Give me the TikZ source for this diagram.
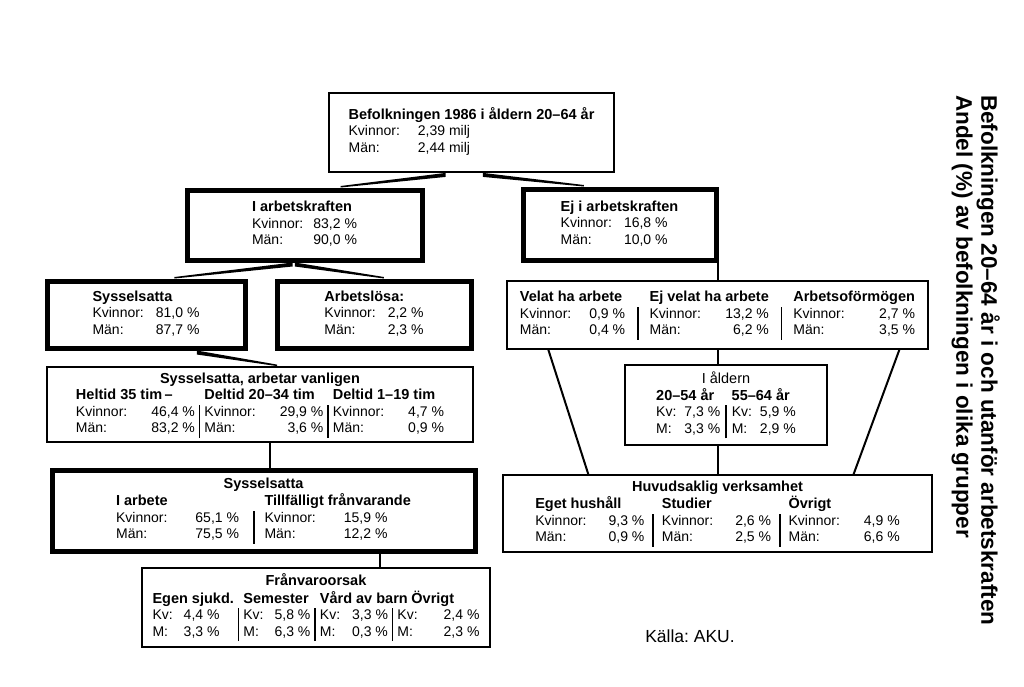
\documentclass[tikz,border=0pt]{standalone}
\usepackage{fontspec}
\setmainfont{Liberation Sans}
\usetikzlibrary{calc}
\newcommand{\colhead}[1]{{\fontsize{14.5}{16.5}\selectfont\bfseries #1}}
\newcommand{\divl}{\vrule width 1.5pt}

\begin{document}
\begin{tikzpicture}[x=1pt, y=-1pt,
    statbox/.style 2 args={draw, 
      line width=1.8, 
      minimum width=#1, 
      minimum height=#2, 
      inner sep=0pt, 
      font=\fontsize{14}{16.5}\selectfont},
    heavybox/.style 2 args={statbox={#1}{#2}, 
      line width=5},
    link/.style={line width=2}]

  \useasboundingbox (0,0) rectangle (1024,686);

  \node [statbox={285}{79}] (pop) at (471.5,132.5) {%
    \begin{tabular}{@{}l@{\hspace{18pt}}l@{}}
      \multicolumn{2}{@{}l@{}}{\colhead{Befolkningen 1986 i åldern 20--64 år}}\\
      Kvinnor: & 2,39 milj\\
      Män:     & 2,44 milj
    \end{tabular}};

  \node [heavybox={235}{70}] (arbkr) at (304.5,225) {%
    \begin{tabular}{@{}l@{\hspace{10pt}}l@{}}
      \multicolumn{2}{@{}l@{}}{\colhead{I arbetskraften}}\\
      Kvinnor: & 83,2~\%\\
      Män:     & 90,0~\%
    \end{tabular}};

  \node [heavybox={193}{71}] (ejarb) at (619.5,224.5) {%
    \begin{tabular}{@{}l@{\hspace{12pt}}l@{}}
      \multicolumn{2}{@{}l@{}}{\colhead{Ej i arbetskraften}}\\
      Kvinnor: & 16,8~\%\\
      Män:     & 10,0~\%
    \end{tabular}};

  \node [heavybox={198}{67}] (syss) at (146,314.5) {%
    \begin{tabular}{@{}l@{\hspace{12pt}}l@{}}
      \multicolumn{2}{@{}l@{}}{\colhead{Sysselsatta}}\\
      Kvinnor: & 81,0~\%\\
      Män:     & 87,7~\%
    \end{tabular}};

  \node [heavybox={194}{67}] (arbl) at (374,314.5) {%
    \begin{tabular}{@{}l@{\hspace{12pt}}l@{}}
      \multicolumn{2}{@{}l@{}}{\colhead{Arbetslösa:}}\\
      Kvinnor: & 2,2~\%\\
      Män:     & 2,3~\%
    \end{tabular}};

  \node [statbox={421}{68}] (velat) at (717.5,315) {%
    \begin{tabular}{@{}l@{\hspace{18pt}}r@{\hspace{12pt}}c@{\hspace{11pt}}l@{\hspace{18pt}}r@{\hspace{12pt}}c@{\hspace{11pt}}l@{\hspace{18pt}}r@{}}
      \multicolumn{2}{@{}l@{\hspace{12pt}}}{\colhead{Velat ha arbete}} & &
      \multicolumn{2}{@{}l@{\hspace{12pt}}}{\colhead{Ej velat ha arbete}} & &
      \multicolumn{2}{@{}l@{}}{\colhead{Arbetsoförmögen}}\\
      Kvinnor: & 0,9~\% & \divl & Kvinnor: & 13,2~\% & \divl & Kvinnor: & 2,7~\%\\
      Män:     & 0,4~\% & \divl & Män:     & 6,2~\%  & \divl & Män:     & 3,5~\%
    \end{tabular}};

  \node [statbox={426}{75}] (sysvanl) at (260,404.5) {%
    \begin{tabular}{@{}l@{\hspace{24pt}}r@{\hspace{4pt}}c@{\hspace{4pt}}l@{\hspace{24pt}}r@{\hspace{4pt}}c@{\hspace{4pt}}l@{\hspace{24pt}}r@{}}
      \multicolumn{8}{@{}c@{}}{\colhead{Sysselsatta, arbetar vanligen}}\\
      \multicolumn{2}{@{}l@{\hspace{4pt}}}{\colhead{Heltid 35 tim\,--}} & &
      \multicolumn{2}{@{}l@{\hspace{4pt}}}{\colhead{Deltid 20--34 tim}} & &
      \multicolumn{2}{@{}l@{}}{\colhead{Deltid 1--19 tim}}\\
      Kvinnor: & 46,4~\% & \divl & Kvinnor: & 29,9~\% & \divl & Kvinnor: & 4,7~\%\\
      Män:     & 83,2~\% & \divl & Män:     & 3,6~\%  & \divl & Män:     & 0,9~\%
    \end{tabular}};

  \node [statbox={202}{80}] (ialdern) at (726,405) {%
    \begin{tabular}{@{}l@{\hspace{8pt}}r@{\hspace{5pt}}c@{\hspace{5pt}}l@{\hspace{8pt}}r@{}}
      \multicolumn{5}{@{}c@{}}{\fontsize{14.5}{16.5}\selectfont I åldern}\\
      \multicolumn{2}{@{}l@{\hspace{5pt}}}{\colhead{20--54 år}} & &
      \multicolumn{2}{@{}l@{}}{\colhead{55--64 år}}\\
      Kv: & 7,3~\% & \divl & Kv: & 5,9~\%\\
      M:  & 3,3~\% & \divl & M:  & 2,9~\%
    \end{tabular}};

  \node [heavybox={423}{81}] (syss2) at (263.5,510.5) {%
    \begin{tabular}{@{}l@{\hspace{28pt}}r@{\hspace{14pt}}c@{\hspace{10pt}}l@{\hspace{28pt}}l@{}}
      \multicolumn{5}{@{}c@{}}{\colhead{Sysselsatta}}\\
      \multicolumn{2}{@{}l@{\hspace{14pt}}}{\colhead{I arbete}} & &
      \multicolumn{2}{@{}l@{}}{\colhead{Tillfälligt frånvarande}}\\
      Kvinnor: & 65,1~\% & \divl & Kvinnor: & 15,9~\%\\
      Män:     & 75,5~\% & \divl & Män:     & 12,2~\%
    \end{tabular}};

  \node [statbox={429}{77}] (huvud) at (717.5,513.5) {%
    \begin{tabular}{@{}l@{\hspace{22pt}}r@{\hspace{8pt}}c@{\hspace{8pt}}l@{\hspace{22pt}}r@{\hspace{8pt}}c@{\hspace{8pt}}l@{\hspace{24pt}}r@{}}
      \multicolumn{8}{@{}c@{}}{\colhead{Huvudsaklig verksamhet}}\\
      \multicolumn{2}{@{}l@{\hspace{8pt}}}{\colhead{Eget hushåll}} & &
      \multicolumn{2}{@{}l@{\hspace{8pt}}}{\colhead{Studier}} & &
      \multicolumn{2}{@{}l@{}}{\colhead{Övrigt}}\\
      Kvinnor: & 9,3~\% & \divl & Kvinnor: & 2,6~\% & \divl & Kvinnor: & 4,9~\%\\
      Män:     & 0,9~\% & \divl & Män:     & 2,5~\% & \divl & Män:     & 6,6~\%
    \end{tabular}};

  \node [statbox={348}{79}] (franv) at (316,607.5) {%
    \begin{tabular}{@{}l@{\hspace{11pt}}l@{\hspace{4pt}}c@{\hspace{4pt}}l@{\hspace{11pt}}l@{\hspace{4pt}}c@{\hspace{4pt}}l@{\hspace{12pt}}l@{\hspace{4pt}}c@{\hspace{4pt}}l@{\hspace{26pt}}l@{}}
      \multicolumn{11}{@{}c@{}}{\colhead{Frånvaroorsak}}\\
      \multicolumn{2}{@{}l@{\hspace{4pt}}}{\colhead{Egen sjukd.}} & &
      \multicolumn{2}{@{}l@{\hspace{4pt}}}{\colhead{Semester}} & &
      \multicolumn{2}{@{}l@{\hspace{4pt}}}{\makebox[0pt][l]{\colhead{Vård av barn}}} & &
      \multicolumn{2}{@{}l@{}}{\hspace*{14pt}\colhead{Övrigt}}\\
      Kv: & 4,4~\% & \divl & Kv: & 5,8~\% & \divl & Kv: & 3,3~\% & \divl & Kv: & 2,4~\%\\
      M:  & 3,3~\% & \divl & M:  & 6,3~\% & \divl & M:  & 0,3~\% & \divl & M:  & 2,3~\%
    \end{tabular}};

  \node [rotate=-90, 
    anchor=north west, 
    align=left, 
    inner sep=0pt, 
    font=\fontsize{22.5}{25}\selectfont\bfseries] (title) at (1000,95) {%
    Befolkningen 20--64 år i och utanför arbetskraften\\
    Andel (\%) av befolkningen i olika grupper};

  \node [font=\fontsize{17.5}{20}\selectfont] (source) at (690,636) {Källa:\ AKU.};

% TAPERED LINKS

  \coordinate (popL)   at ($(pop.south west)!0.41!(pop.south east)$);
  \coordinate (popR)   at ($(pop.south west)!0.54!(pop.south east)$);
  \coordinate (arbkrT) at ($(arbkr.north west)!0.65!(arbkr.north east)$);
  \coordinate (ejarbT) at ($(ejarb.north west)!0.32!(ejarb.north east)$);
  \coordinate (arbkrL) at ($(arbkr.south west)!0.45!(arbkr.south east)$);
  \coordinate (arbkrR) at ($(arbkr.south west)!0.46!(arbkr.south east)$);
  \coordinate (syssT)  at ($(syss.north west)!0.64!(syss.north east)$);
  \coordinate (arblT)  at ($(arbl.north west)!0.55!(arbl.north east)$);
  \coordinate (syssB)  at ($(syss.south west)!0.75!(syss.south east)$);
  \coordinate (vanlT)  at ($(sysvanl.north west)!0.54!(sysvanl.north east)$);

  \fill (popL) -- ($(arbkrT)+(0,-1.5)$) -- (arbkrT) -- ($(popL)+(0,4)$) -- cycle;
  \fill (popR) -- ($(ejarbT)+(0,-1.5)$) -- (ejarbT) -- ($(popR)+(0,4)$) -- cycle;
  \fill (arbkrL) -- ($(syssT)+(0,-1.5)$) -- (syssT) -- ($(arbkrL)+(0,4)$) -- cycle;
  \fill (arbkrR) -- ($(arblT)+(0,-1.5)$) -- (arblT) -- ($(arbkrR)+(0,4)$) -- cycle;
  \fill (syssB) -- ($(vanlT)+(0,-1.5)$) -- (vanlT) -- ($(syssB)+(0,4)$) -- cycle;

% STRAIGHT LINKS

  \draw[link] (velat.north) -- (velat.north |- ejarb.south);
  \draw[link] (velat.south) -- (velat.south |- ialdern.north);
  \draw[link] (huvud.north |- ialdern.south) -- (huvud.north);
  \draw[link] ($(velat.south west)!0.1!(velat.south east)$) 
    -- ($(huvud.north west)!0.2!(huvud.north east)$);
  \draw[link] ($(velat.south west)!0.93!(velat.south east)$) 
    -- ($(huvud.north west)!0.816!(huvud.north east)$);

  \coordinate (vanlB) at ($(sysvanl.south)+(10,0)$);
  \draw[link] (vanlB) -- (vanlB |- syss2.north);
  \coordinate (syss2B) at ($(syss2.south)+(116.5,0)$);
  \draw[link] (syss2B) -- (syss2B |- franv.north);

\end{tikzpicture}
\end{document}
